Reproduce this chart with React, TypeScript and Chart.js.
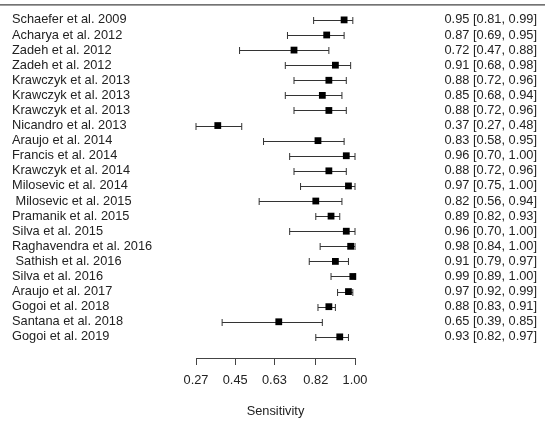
import React, { useEffect, useRef } from "react";
import { Chart, registerables } from "chart.js";

Chart.register(...registerables);

const studies = [
  "Schaefer et al. 2009",
  "Acharya et al. 2012",
  "Zadeh et al. 2012",
  "Zadeh et al. 2012",
  "Krawczyk et al. 2013",
  "Krawczyk et al. 2013",
  "Krawczyk et al. 2013",
  "Nicandro et al. 2013",
  "Araujo et al. 2014",
  "Francis et al. 2014",
  "Krawczyk et al. 2014",
  "Milosevic et al. 2014",
  " Milosevic et al. 2015",
  "Pramanik et al. 2015",
  "Silva et al. 2015",
  "Raghavendra et al. 2016",
  " Sathish et al. 2016",
  "Silva et al. 2016",
  "Araujo et al. 2017",
  "Gogoi et al. 2018",
  "Santana et al. 2018",
  "Gogoi et al. 2019",
];

const estimate = [0.95, 0.87, 0.72, 0.91, 0.88, 0.85, 0.88, 0.37, 0.83, 0.96, 0.88, 0.97, 0.82, 0.89, 0.96, 0.98, 0.91, 0.99, 0.97, 0.88, 0.65, 0.93];
const lower = [0.81, 0.69, 0.47, 0.68, 0.72, 0.68, 0.72, 0.27, 0.58, 0.7, 0.72, 0.75, 0.56, 0.82, 0.7, 0.84, 0.79, 0.89, 0.92, 0.83, 0.39, 0.82];
const upper = [0.99, 0.95, 0.88, 0.98, 0.96, 0.94, 0.96, 0.48, 0.95, 1.0, 0.96, 1.0, 0.94, 0.93, 1.0, 1.0, 0.97, 1.0, 0.99, 0.91, 0.85, 0.97];

const xTicks = [0.27, 0.45, 0.63, 0.82, 1.0];
const xTitle = "Sensitivity";

const ciLabels = estimate.map(
  (e, i) => `${e.toFixed(2)} [${lower[i].toFixed(2)}, ${upper[i].toFixed(2)}]`
);

const FONT = "'Liberation Sans', Arial, sans-serif";
const TEXT = "#222";
const FS = 12.8;

export default function App() {
  const ref = useRef<HTMLCanvasElement | null>(null);

  useEffect(() => {
    if (!ref.current) return;

    const whiskers = {
      id: "whiskers",
      beforeDatasetsDraw(chart: any) {
        const { ctx } = chart;
        const xs = chart.scales.x;
        const ys = chart.scales.y;
        ctx.save();
        ctx.strokeStyle = "#333";
        ctx.lineWidth = 1;
        lower.forEach((lo, i) => {
          const y = Math.round(ys.getPixelForValue(i + 1)) + 0.5;
          const x1 = xs.getPixelForValue(lo);
          const x2 = xs.getPixelForValue(upper[i]);
          ctx.beginPath();
          ctx.moveTo(x1, y);
          ctx.lineTo(x2, y);
          ctx.moveTo(x1, y - 3.5);
          ctx.lineTo(x1, y + 3.5);
          ctx.moveTo(x2, y - 3.5);
          ctx.lineTo(x2, y + 3.5);
          ctx.stroke();
        });
        ctx.restore();
      },
    };

    const topLine = {
      id: "topLine",
      afterDraw(chart: any) {
        const { ctx, chartArea } = chart;
        ctx.save();
        ctx.strokeStyle = "#444";
        ctx.lineWidth = 1.2;
        ctx.beginPath();
        ctx.moveTo(0, chartArea.top);
        ctx.lineTo(chart.width - 5, chartArea.top);
        ctx.stroke();
        ctx.restore();
      },
    };

    const rowTicks = (scale: any) => {
      scale.ticks = studies.map((_, i) => ({ value: i + 1 }));
    };
    const noPad = (w: number) => (scale: any) => {
      scale.width = w;
      scale.paddingTop = 0;
      scale.paddingBottom = 0;
    };

    const chart = new Chart(ref.current, {
      type: "scatter",
      data: {
        datasets: [
          {
            data: estimate.map((v, i) => ({ x: v, y: i + 1 })),
            pointStyle: "rect",
            pointRadius: 4.8,
            pointHoverRadius: 4.8,
            backgroundColor: "#000",
            borderColor: "#000",
            borderWidth: 0,
            clip: false,
            yAxisID: "y",
          },
        ],
      },
      options: {
        animation: false,
        responsive: false,
        events: [],
        layout: { padding: { left: 12, right: 13, top: 4, bottom: 0 } },
        plugins: {
          legend: { display: false },
          tooltip: { enabled: false },
        },
        scales: {
          x: {
            type: "linear",
            min: 0.27,
            max: 1.0,
            afterBuildTicks: (scale: any) => {
              scale.ticks = xTicks.map((v) => ({ value: v }));
            },
            afterFit: (scale: any) => {
              scale.height = 63;
              scale.paddingLeft = 0;
              scale.paddingRight = 0;
            },
            ticks: {
              callback: (v: any) => Number(v).toFixed(2),
              color: TEXT,
              font: { family: FONT, size: FS },
              padding: 8,
              maxRotation: 0,
              autoSkip: false,
            },
            grid: {
              display: true,
              drawOnChartArea: false,
              drawTicks: true,
              tickLength: 7,
              color: "#444",
              lineWidth: 1,
            },
            border: { display: true, color: "#444", width: 1 },
            title: {
              display: true,
              text: xTitle,
              color: TEXT,
              font: { family: FONT, size: FS },
              padding: { top: 0, bottom: 2 },
            },
          },
          y: {
            type: "linear",
            position: "left",
            reverse: true,
            min: 0,
            max: 23.4,
            afterBuildTicks: rowTicks,
            afterFit: noPad(184),
            ticks: {
              callback: (v: any) => studies[Number(v) - 1] ?? "",
              crossAlign: "far",
              color: TEXT,
              font: { family: FONT, size: FS },
              autoSkip: false,
              padding: 0,
            },
            grid: { display: false },
            border: { display: false },
          },
          y2: {
            type: "linear",
            position: "right",
            reverse: true,
            min: 0,
            max: 23.4,
            afterBuildTicks: rowTicks,
            afterFit: noPad(182),
            ticks: {
              callback: (v: any) => ciLabels[Number(v) - 1] ?? "",
              crossAlign: "far",
              color: TEXT,
              font: { family: FONT, size: FS },
              autoSkip: false,
              padding: 0,
            },
            grid: { display: false },
            border: { display: false },
          },
        },
      },
      plugins: [whiskers, topLine],
    } as any);

    return () => chart.destroy();
  }, []);

  return (
    <div style={{ position: "absolute", left: 0, top: 0, width: 550, height: 421, background: "#fff" }}>
      <canvas ref={ref} width={550} height={421} style={{ display: "block", width: 550, height: 421 }} />
    </div>
  );
}
